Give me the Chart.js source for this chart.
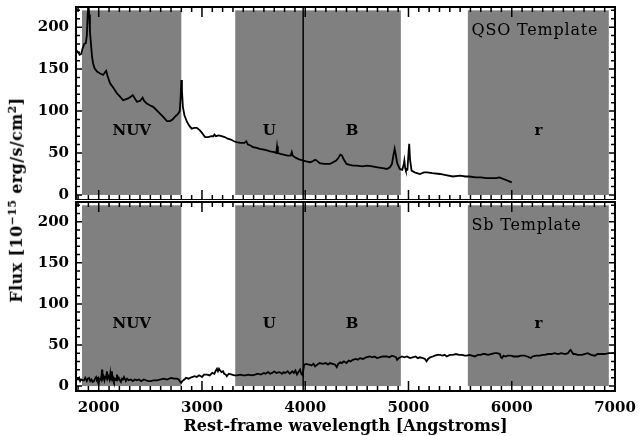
<!DOCTYPE html>
<html>
<head>
<meta charset="utf-8">
<script src="https://cdn.jsdelivr.net/npm/chart.js@4"></script>
<style>
  body { margin: 0; background: #fff; }
  #wrap { position: relative; width: 640px; height: 436px; }
  canvas { position: absolute; left: 0; }
  #ytitle {
    position: absolute; left: 16px; top: 200px;
    transform: translate(-50%, -50%) rotate(-90deg);
    font: bold 16px 'DejaVu Serif'; letter-spacing: 0.4px; white-space: nowrap; color: #000;
  }
  #ytitle sup { font-size: 11px; }
</style>
</head>
<body>
<div id="wrap">
  <canvas id="topChart" width="640" height="200" style="top:0"></canvas>
  <canvas id="botChart" width="640" height="236" style="top:200px"></canvas>
  <div id="ytitle">Flux [10<sup>−15</sup> erg/s/cm<sup>2</sup>]</div>
</div>
<script>
// axis ranges and ticks
const xMin = 1780, xMax = 7000;
const yMin = -6, yMax = 224;
const xTicks = [2000, 3000, 4000, 5000, 6000, 7000];
const yTicks = [0, 50, 100, 150, 200];

// filter bands
const bandNames = ['NUV', 'U', 'B', 'r'];
const bandStart = [1838, 3322, 3980, 5575];
const bandEnd = [2800, 3980, 4926, 6940];
const bandTop = 220;
const bandLabelY = 76;
const breakWave = 3980;

const panelTitles = ['QSO Template', 'Sb Template'];

// QSO template spectrum
const qsoWave = [1780,1800,1815,1830,1845,1860,1875,1885,1893,1900,1908,1915,1925,1935,1945,1960,1983,2010,2042,2060,2072,2085,2110,2140,2177,2200,2235,2260,2285,2310,2330,2345,2370,2400,2425,2440,2465,2495,2527,2560,2593,2625,2660,2690,2715,2738,2770,2785,2795,2800,2806,2815,2830,2855,2880,2900,2925,2950,2980,3000,3030,3060,3090,3110,3120,3135,3160,3190,3220,3250,3280,3310,3335,3370,3410,3430,3445,3470,3495,3530,3560,3600,3630,3660,3700,3720,3727,3735,3760,3790,3830,3860,3870,3878,3900,3930,3950,3980,4010,4045,4070,4095,4110,4140,4180,4210,4240,4270,4300,4320,4340,4355,4375,4400,4430,4465,4500,4550,4600,4650,4700,4750,4790,4820,4840,4855,4866,4878,4890,4915,4940,4955,4960,4968,4975,4990,5000,5007,5015,5030,5060,5110,5150,5180,5230,5305,5350,5430,5500,5550,5590,5650,5700,5755,5800,5850,5880,5920,5960,6000];
const qsoFlux = [173,170,167,168,175,180,181,190,215,226,215,195,180,165,157,151,147,145,143,146,148,142,133,128,121,118,113,114,115,117,119,116,111,112,116,112,109,107,105,101,97,93,88,88,90,93,97,100,120,137,125,105,95,87,82,79,80,80,77,74,69,69,70,70,72,70,71,70,69,67,66,64,63,62,62,64,60,59,57,56,55,54,53,52,51,50,58,50,49,48,47,47,51,47,45,43,42,41,40,39,40,42,41,38,37,37,37,39,41,44,48,47,42,37,36,35,35,34,35,34,33,32,31,33,37,48,55,47,38,31,30,37,41,32,29,30,50,61,42,29,27,25,27,27,26,25,24,22,23,22,22,21,21,20,20,20,21,19,17,15];

// Sb template spectrum
const sbWave = [1780,1790,1800,1810,1820,1830,1845,1857,1870,1885,1895,1906,1918,1930,1942,1954,1965,1975,1983,1995,2005,2015,2022,2028,2032,2036,2045,2055,2062,2070,2076,2080,2085,2095,2105,2112,2118,2124,2128,2133,2140,2148,2158,2168,2177,2185,2195,2205,2215,2225,2235,2245,2255,2264,2275,2290,2312,2330,2350,2370,2390,2410,2438,2460,2485,2506,2530,2564,2600,2632,2660,2700,2730,2758,2775,2790,2798,2810,2830,2845,2870,2903,2930,2950,2971,2990,3000,3020,3050,3075,3100,3120,3135,3145,3155,3165,3175,3190,3205,3215,3230,3240,3260,3290,3315,3340,3370,3400,3420,3450,3480,3515,3540,3570,3600,3615,3640,3660,3680,3700,3720,3750,3775,3790,3805,3830,3850,3875,3890,3905,3920,3935,3950,3962,3975,3982,3990,4010,4030,4045,4060,4080,4095,4115,4140,4170,4200,4220,4240,4265,4290,4305,4320,4340,4355,4375,4400,4420,4440,4460,4490,4510,4530,4560,4590,4625,4650,4670,4695,4720,4750,4790,4815,4840,4865,4880,4890,4905,4935,4960,4985,5015,5040,5070,5090,5110,5140,5160,5175,5190,5210,5235,5255,5280,5305,5330,5350,5370,5400,5430,5460,5490,5520,5545,5565,5590,5615,5645,5670,5700,5720,5740,5770,5800,5835,5860,5885,5895,5905,5920,5940,5960,5990,6020,6060,6090,6125,6150,6170,6185,6200,6240,6270,6300,6320,6350,6385,6415,6450,6480,6515,6545,6560,6570,6580,6595,6610,6640,6680,6705,6735,6770,6805,6830,6860,6900,6940,6970,7000];
const sbFlux = [7,9,8,10,6,8,7,7,10,6,9,10,6,8,5,6,9,11,8,10,6,9,8,14,20,9,12,7,11,10,15,18,9,12,8,15,7,12,18,8,10,6,9,7,14,8,10,7,5,9,8,11,8,7,9,7,8,6,8,7,8,6,8,7,6,6,7,7,8,9,8,10,9,9,8,5,4,6,8,10,9,11,12,11,13,12,11,14,14,13,16,15,19,21,18,21,19,17,18,15,14,12,15,14,13,13,14,13,13,14,13,14,15,14,16,15,17,15,16,18,16,17,15,17,16,18,15,18,16,19,14,17,20,15,13,20,26,27,26,26,25,27,24,26,28,27,28,26,28,27,26,23,27,29,28,30,28,31,30,32,33,32,34,33,35,36,35,36,34,35,36,36,35,37,36,35,32,34,36,35,36,34,35,36,34,35,34,33,30,33,35,36,37,38,38,37,38,36,38,38,39,38,38,37,37,38,37,36,38,38,39,39,38,39,40,40,39,35,34,37,36,37,37,36,36,37,37,36,35,34,36,37,37,38,38,39,39,40,39,40,39,40,43,44,42,39,39,38,38,39,40,38,37,39,39,39,40,40,40];

const serif = "'DejaVu Serif'";

function toPoints(xs, ys) {
  return xs.map((w, i) => ({ x: w, y: ys[i] }));
}

const decoPlugin = {
  id: 'deco',
  beforeDatasetsDraw(chart, args, opts) {
    const { ctx, scales: { x, y } } = chart;
    ctx.save();
    ctx.fillStyle = '#808080';
    const y0 = y.getPixelForValue(bandTop), y1 = y.getPixelForValue(0);
    bandStart.forEach((s, i) => {
      const x0 = x.getPixelForValue(s), x1 = x.getPixelForValue(bandEnd[i]);
      ctx.fillRect(x0, y0, x1 - x0, y1 - y0);
    });
    ctx.fillStyle = '#000';
    ctx.font = 'bold 15px ' + serif;
    ctx.textAlign = 'center';
    ctx.textBaseline = 'middle';
    bandNames.forEach((n, i) => {
      ctx.fillText(n, x.getPixelForValue((bandStart[i] + bandEnd[i]) / 2), y.getPixelForValue(bandLabelY));
    });
    ctx.font = '16px ' + serif;
    ctx.letterSpacing = '0.8px';
    ctx.textAlign = 'left';
    ctx.fillText(opts.title, x.getPixelForValue(5610), y.getPixelForValue(195));
    ctx.restore();
  },
  afterDatasetsDraw(chart) {
    const { ctx, chartArea: a, scales: { x, y } } = chart;
    ctx.save();
    ctx.strokeStyle = '#000';
    // 4000 break line
    ctx.lineWidth = 1.5;
    const bx = x.getPixelForValue(breakWave);
    ctx.beginPath();
    ctx.moveTo(bx, a.top);
    ctx.lineTo(bx, a.bottom);
    ctx.stroke();
    // box
    ctx.lineWidth = 2;
    ctx.strokeRect(a.left, a.top, a.right - a.left, a.bottom - a.top);
    // inward ticks
    ctx.lineWidth = 1.5;
    ctx.beginPath();
    for (let v = Math.ceil(xMin / 100) * 100; v <= xMax; v += 100) {
      const px = x.getPixelForValue(v);
      const len = v % 1000 === 0 ? 10 : 5;
      ctx.moveTo(px, a.top); ctx.lineTo(px, a.top + len);
      ctx.moveTo(px, a.bottom); ctx.lineTo(px, a.bottom - len);
    }
    for (let v = 0; v <= yMax; v += 10) {
      const py = y.getPixelForValue(v);
      const len = v % 50 === 0 ? 6 : 4;
      ctx.moveTo(a.left, py); ctx.lineTo(a.left + len, py);
      ctx.moveTo(a.right, py); ctx.lineTo(a.right - len, py);
    }
    ctx.stroke();
    ctx.restore();
  }
};

function makeChart(id, points, title, showX, pad) {
  return new Chart(document.getElementById(id), {
    type: 'line',
    data: {
      datasets: [{
        data: points,
        borderColor: '#000',
        borderWidth: 1.8,
        pointRadius: 0,
        tension: 0
      }]
    },
    options: {
      responsive: false,
      animation: false,
      layout: { padding: pad },
      plugins: {
        legend: { display: false },
        tooltip: { enabled: false },
        deco: { title: title }
      },
      scales: {
        x: {
          type: 'linear',
          min: xMin, max: xMax,
          display: showX,
          afterBuildTicks: s => { s.ticks = xTicks.map(v => ({ value: v })); },
          afterFit: s => {
            if (showX) s.height = 45;
            s.paddingLeft = 0; s.paddingRight = 0;
          },
          grid: { display: false, drawTicks: false },
          border: { display: false },
          ticks: {
            color: '#000', font: { family: serif, size: 15, weight: 'bold' },
            padding: 8, maxRotation: 0, callback: v => String(v)
          },
          title: {
            display: true,
            text: 'Rest-frame wavelength [Angstroms]',
            color: '#000',
            font: { family: serif, size: 16, weight: 'bold' },
            padding: { top: 0, bottom: 0 }
          }
        },
        y: {
          min: yMin, max: yMax,
          afterBuildTicks: s => { s.ticks = yTicks.map(v => ({ value: v })); },
          afterFit: s => { s.width = 76; s.paddingTop = 0; s.paddingBottom = 0; },
          grid: { display: false, drawTicks: false },
          border: { display: false },
          ticks: {
            color: '#000', font: { family: serif, size: 15, weight: 'bold' },
            padding: 7, callback: v => String(v)
          }
        }
      }
    },
    plugins: [decoPlugin]
  });
}

makeChart('topChart', toPoints(qsoWave, qsoFlux), panelTitles[0], false,
  { top: 7, right: 25, bottom: 0, left: 0 });
makeChart('botChart', toPoints(sbWave, sbFlux), panelTitles[1], true,
  { top: 2, right: 25, bottom: 0, left: 0 });
</script>
</body>
</html>
